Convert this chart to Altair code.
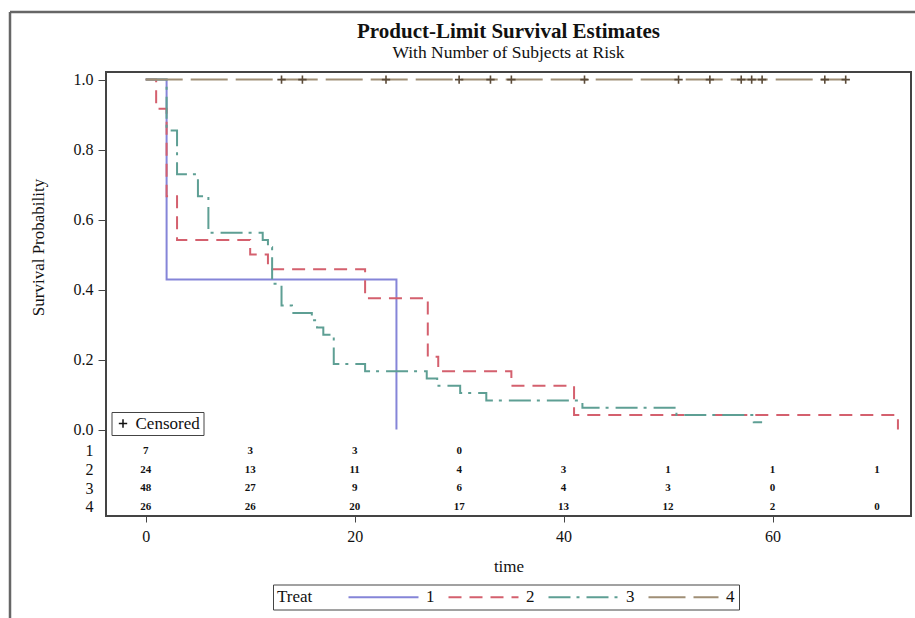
import altair as alt
import pandas as pd

FONT = "Liberation Serif"

# ---- Kaplan-Meier step data (time at which the step starts, survival from then on)
t1 = [0, 2, 24]
s1 = [1.0, 0.4286, 0.0]
t2 = [0, 1, 2, 3, 10, 11.7, 21, 27, 28, 35, 41, 72]
s2 = [1.0, 0.9167, 0.6667, 0.5417, 0.5, 0.4583, 0.375, 0.2083, 0.1667, 0.125, 0.0417, 0.0]
t3 = [0, 2, 3, 5, 6, 11.2, 11.7, 12.1, 13, 14, 15.9, 16.4, 17, 18, 21, 26.9, 27.9,
      30.1, 32.6, 41.8, 50.8, 58.2, 59]
s3 = [1.0, 0.8542, 0.7292, 0.6667, 0.5625, 0.5417, 0.5208, 0.4167, 0.3542, 0.3333,
      0.3125, 0.2917, 0.2708, 0.1875, 0.1667, 0.1458, 0.125, 0.1042, 0.0833, 0.0625,
      0.0417, 0.0208, 0.0208]
t4 = [0, 67]
s4 = [1.0, 1.0]

# censored observations (treatment 4)
cens_t4 = [13, 15, 23, 30, 33, 35, 42, 51, 54, 57, 58, 59, 65, 67]

# number at risk
risk_times = [0, 10, 20, 30, 40, 50, 60, 70]
risk1 = [7, 3, 3, 0]
risk2 = [24, 13, 11, 4, 3, 1, 1, 1]
risk3 = [48, 27, 9, 6, 4, 3, 0]
risk4 = [26, 26, 20, 17, 13, 12, 2, 0]

treats = ["1", "2", "3", "4"]
colors = ["#8585d8", "#d4606e", "#5e9f94", "#a08f76"]
dashes = [[1, 0], [13, 8], [22, 6, 3, 7], [37, 8]]

# ---- build tables
rows = []
for tr, ts, ss in zip(treats, [t1, t2, t3, t4], [s1, s2, s3, s4]):
    for i, (t, s) in enumerate(zip(ts, ss)):
        rows.append({"treat": tr, "time": t, "surv": s, "idx": i})
curves = pd.DataFrame(rows)

cens = pd.DataFrame({"time": cens_t4, "surv": [1.0] * len(cens_t4),
                     "kind": ["Censored"] * len(cens_t4)})

ROW_TOP = -0.0611
ROW_STEP = 0.05333
row_pos = [ROW_TOP - ROW_STEP * i for i in range(4)]

risk_rows = []
for ri, lst in enumerate([risk1, risk2, risk3, risk4]):
    for t, n in zip(risk_times, lst):
        risk_rows.append({"row": ri, "time": t, "n": n})
risk = pd.DataFrame(risk_rows)

xscale = alt.Scale(domain=[-3.8, 73.25], nice=False, zero=False)
yscale = alt.Scale(domain=[-0.2469, 1.0217], nice=False, zero=False)

label_expr = ("datum.value < -0.19 ? '4' : datum.value < -0.14 ? '3' : "
              "datum.value < -0.09 ? '2' : datum.value < -0.03 ? '1' : format(datum.value, '.1f')")

xaxis = alt.Axis(values=[0, 20, 40, 60], title="time", tickSize=6, labelPadding=6,
                 domain=False, grid=False, labelFont=FONT, labelFontSize=16,
                 titleFont=FONT, titleFontSize=17, titleFontWeight="normal",
                 titlePadding=14, tickColor="#444", labelColor="#111", titleColor="#111")
yaxis = alt.Axis(values=row_pos + [0, 0.2, 0.4, 0.6, 0.8, 1.0], labelExpr=label_expr,
                 title="Survival Probability", tickSize=8, labelPadding=5,
                 tickOpacity={"condition": {"test": "datum.value < -0.03", "value": 0}, "value": 1},
                 domain=False, grid=False, labelFont=FONT, labelFontSize=16,
                 titleFont=FONT, titleFontSize=17, titleFontWeight="normal",
                 titleX=-68, titleY=175, titleAngle=270, titleBaseline="middle",
                 titleAlign="center", tickColor="#444", labelColor="#111", titleColor="#111")

# wide, thin legend line: custom path 10 units long, size 196 -> 70 px
legend_common = dict(title="Treat", orient="none", legendX=167, legendY=512.5,
                     direction="horizontal", titleOrient="left", symbolType="M-5,0H5",
                     symbolSize=196, symbolOffset=28, symbolStrokeWidth=2,
                     labelFont=FONT, labelFontSize=17,
                     titleFont=FONT, titleFontSize=17, titleFontWeight="normal",
                     strokeColor="#444", padding=4, columnPadding=9, labelOffset=34,
                     titlePadding=34, labelColor="#111", titleColor="#111")

lines = alt.Chart(curves).mark_line(interpolate="step-after", strokeWidth=2).encode(
    x=alt.X("time:Q", scale=xscale, axis=xaxis),
    y=alt.Y("surv:Q", scale=yscale, axis=yaxis),
    color=alt.Color("treat:N", scale=alt.Scale(domain=treats, range=colors),
                    legend=alt.Legend(**legend_common)),
    strokeDash=alt.StrokeDash("treat:N", scale=alt.Scale(domain=treats, range=dashes),
                              legend=alt.Legend(**legend_common)),
    order=alt.Order("idx:Q"),
)

cens_layer = alt.Chart(cens).mark_point(filled=False, size=70, strokeWidth=1.6,
                                        opacity=1, color="#5a4a38").encode(
    x="time:Q",
    y="surv:Q",
    shape=alt.Shape("kind:N",
                    scale=alt.Scale(domain=["Censored"], range=["M-1,0H1M0,-1V1"]),
                    legend=alt.Legend(title=None, orient="none", legendX=5.5, legendY=340,
                                      strokeColor="#444", padding=3, symbolStrokeColor="#111",
                                      symbolSize=70, symbolStrokeWidth=1.5, labelFont=FONT,
                                      labelFontSize=17, labelOffset=4, labelColor="#111")),
)

risk_layer = alt.Chart(risk).transform_calculate(
    ypos=f"{ROW_TOP} - {ROW_STEP} * datum.row"
).mark_text(font=FONT, fontSize=11, fontWeight="bold", baseline="middle",
            align="center", color="#111").encode(
    x="time:Q",
    y="ypos:Q",
    text="n:Q",
)

border = alt.Chart(pd.DataFrame({"a": [0]})).mark_rule(color="#666", strokeWidth=2.5)
border_left = border.encode(x=alt.value(-96), y=alt.value(-60), y2=alt.value(560))
border_top = border.encode(x=alt.value(-96), x2=alt.value(830), y=alt.value(-60))

chart = alt.layer(lines, cens_layer, risk_layer, border_left, border_top).properties(
    width=805, height=444,
    autosize=alt.AutoSizeParams(type="none"),
    padding={"left": 106, "top": 72, "right": 4, "bottom": 102},
    background="white",
    title=alt.TitleParams("Product-Limit Survival Estimates",
                          subtitle="With Number of Subjects at Risk",
                          font=FONT, fontSize=21, fontWeight="bold", color="#111",
                          subtitleFont=FONT, subtitleFontSize=17.5, subtitleColor="#111",
                          anchor="middle", frame="group", offset=12, dy=63,
                          subtitlePadding=2),
).configure_view(stroke="#444", strokeWidth=2)

chart.save("out.html", embed_options={"renderer": "svg", "actions": False})
